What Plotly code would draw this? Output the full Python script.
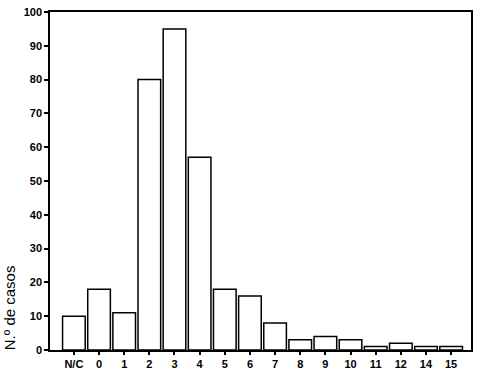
import plotly.graph_objects as go

categories = ["N/C", "0", "1", "2", "3", "4", "5", "6", "7", "8", "9", "10", "11", "12", "14", "15"]
cases = [10, 18, 11, 80, 95, 57, 18, 16, 8, 3, 4, 3, 1, 2, 1, 1]
y_ticks = [0, 10, 20, 30, 40, 50, 60, 70, 80, 90, 100]

tick_font = dict(family="Liberation Sans, Arial, sans-serif", color="black", size=11, weight="bold")

fig = go.Figure()
fig.add_trace(go.Bar(
    x=list(range(len(categories))), y=cases, width=0.9,
    marker=dict(color="white", line=dict(color="black", width=1.5)),
))

fig.update_layout(
    width=479, height=379,
    margin=dict(l=50, r=6, t=10, b=29),
    plot_bgcolor="white", paper_bgcolor="white",
    showlegend=False,
    font=dict(family="Liberation Sans, Arial, sans-serif", color="black", size=11),
    xaxis=dict(
        range=[-0.95, 15.79], tickmode="array",
        tickvals=list(range(len(categories))), ticktext=categories,
        tickfont=tick_font,
        showline=True, linecolor="black", linewidth=1.5, mirror=True,
        ticks="outside", ticklen=3, tickwidth=2, tickcolor="black",
        showgrid=False, zeroline=False,
    ),
    yaxis=dict(
        range=[0, 100], tickmode="array", tickvals=y_ticks,
        tickfont=tick_font,
        showline=True, linecolor="black", linewidth=1.5, mirror=True,
        ticks="outside", ticklen=4, tickwidth=2, tickcolor="black",
        showgrid=False, zeroline=False,
    ),
    annotations=[dict(
        text="N.º de casos", textangle=-90, showarrow=False,
        xref="paper", yref="paper", x=-0.097, y=0.124,
        xanchor="center", yanchor="middle",
        font=dict(size=15, family="Liberation Sans, Arial, sans-serif", color="black"),
    )],
)

fig.write_html("out.html")
